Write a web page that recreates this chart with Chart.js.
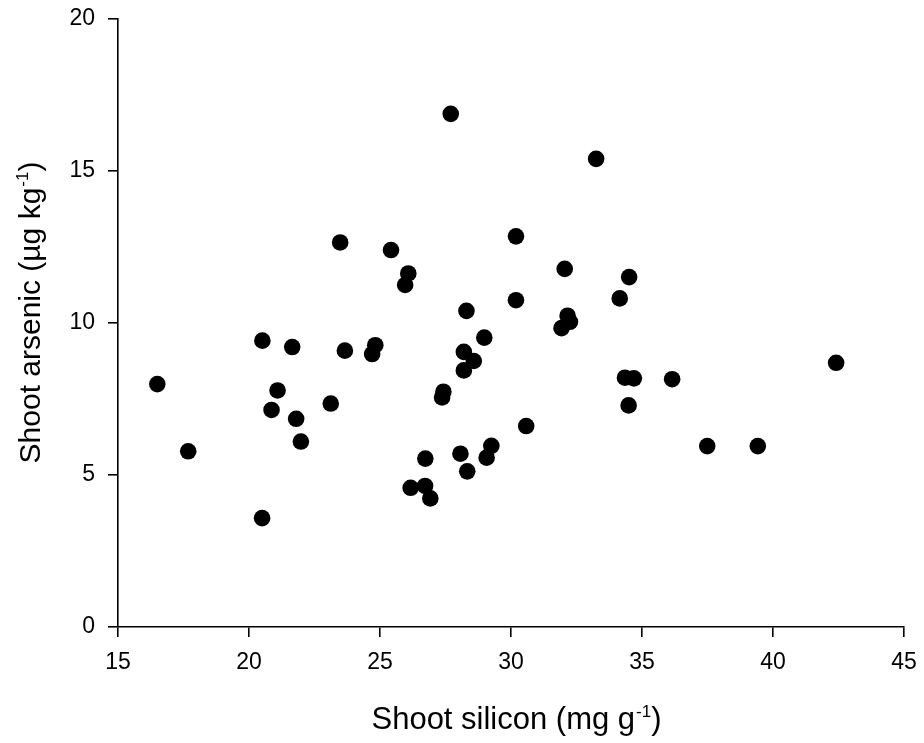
<!DOCTYPE html>
<html>
<head>
<meta charset="utf-8">
<script src="https://cdn.jsdelivr.net/npm/chart.js@4"></script>
<style>
  html, body { margin: 0; padding: 0; background: #fff; }
  #wrap { width: 924px; height: 743px; }
</style>
</head>
<body>
<div id="wrap"><canvas id="myChart" width="924" height="743"></canvas></div>
<script>
// shoot silicon (mg g-1) vs shoot arsenic (ug kg-1)
const silicon = [16.50, 17.68, 20.50, 20.51, 20.86, 21.09, 21.65, 21.80, 21.98, 23.12,
                 23.48, 23.66, 24.70, 24.82, 25.42, 25.96, 26.08, 26.17, 26.72, 26.73,
                 26.92, 27.37, 27.42, 27.70, 28.07, 28.20, 28.20, 28.30, 28.33, 28.58,
                 28.98, 29.07, 29.25, 30.19, 30.19, 30.58, 31.93, 32.05, 32.16, 32.25,
                 33.25, 34.15, 34.35, 34.49, 34.51, 34.69, 36.15, 37.49, 39.42, 42.41];
const arsenic = [7.99, 5.78, 3.58, 9.42, 7.14, 7.78, 9.21, 6.85, 6.10, 7.35,
                 12.65, 9.09, 8.98, 9.27, 12.40, 11.25, 11.63, 4.58, 4.64, 5.54,
                 4.23, 7.55, 7.74, 16.88, 5.70, 9.05, 8.44, 10.40, 5.12, 8.75,
                 9.52, 5.57, 5.96, 12.85, 10.75, 6.61, 9.83, 11.78, 10.24, 10.04,
                 15.40, 10.81, 8.20, 7.29, 11.51, 8.18, 8.15, 5.95, 5.95, 8.69];
const xTicks = [15, 20, 25, 30, 35, 40, 45];
const yTicks = [0, 5, 10, 15, 20];
const xTitle = ['Shoot silicon (mg g', '-1', ')'];
const yTitle = ['Shoot arsenic (\u00b5g kg', '-1', ')'];

const FONT = '"Liberation Sans", Arial, sans-serif';

function drawSup(ctx, parts, cx, baseY, size) {
    const sup = Math.round(size * 0.55);
    ctx.font = size + 'px ' + FONT;
    const w1 = ctx.measureText(parts[0]).width;
    const w3 = ctx.measureText(parts[2]).width;
    ctx.font = sup + 'px ' + FONT;
    const w2 = ctx.measureText(parts[1]).width;
    let x = cx - (w1 + w2 + w3) / 2;
    ctx.textBaseline = 'alphabetic';
    ctx.textAlign = 'left';
    ctx.font = size + 'px ' + FONT;
    ctx.fillText(parts[0], x, baseY);
    ctx.font = sup + 'px ' + FONT;
    ctx.fillText(parts[1], x + w1 + 1, baseY - 12);
    ctx.font = size + 'px ' + FONT;
    ctx.fillText(parts[2], x + w1 + w2 + 1, baseY);
}

const axisTitles = {
    id: 'axisTitles',
    afterDraw(chart) {
        const ctx = chart.ctx;
        const a = chart.chartArea;
        ctx.save();
        ctx.fillStyle = '#000';
        drawSup(ctx, xTitle, (a.left + a.right) / 2 + 5, 729, 31);
        ctx.translate(40, (a.top + a.bottom) / 2 - 10);
        ctx.rotate(-Math.PI / 2);
        drawSup(ctx, yTitle, 0, 0, 30);
        ctx.restore();
    }
};

const points = silicon.map((s, i) => ({x: s, y: arsenic[i]}));

const config = {
    type: 'scatter',
    data: {
        datasets: [{
            data: points,
            backgroundColor: '#000',
            borderWidth: 0,
            pointRadius: 8.3,
            pointHoverRadius: 8.3
        }]
    },
    options: {
        responsive: false,
        animation: false,
        layout: { padding: { top: 19, right: 20, left: 0, bottom: 0 } },
        plugins: { legend: { display: false }, tooltip: { enabled: false } },
        scales: {
            x: {
                type: 'linear',
                min: xTicks[0],
                max: xTicks[xTicks.length - 1],
                afterBuildTicks: (scale) => { scale.ticks = xTicks.map(v => ({value: v})); },
                afterFit: (scale) => { scale.height = 116; scale.paddingLeft = 0; scale.paddingRight = 0; },
                grid: { drawOnChartArea: false, drawTicks: true, tickLength: 10, color: '#000', lineWidth: 1.6 },
                border: { display: true, color: '#000', width: 1.6 },
                ticks: { color: '#000', padding: 12, font: { family: FONT, size: 23 }, maxRotation: 0 }
            },
            y: {
                type: 'linear',
                min: yTicks[0],
                max: yTicks[yTicks.length - 1],
                afterBuildTicks: (scale) => { scale.ticks = yTicks.map(v => ({value: v})); },
                afterFit: (scale) => { scale.width = 118; scale.paddingTop = 0; scale.paddingBottom = 0; },
                grid: { drawOnChartArea: false, drawTicks: true, tickLength: 10, color: '#000', lineWidth: 1.6 },
                border: { display: true, color: '#000', width: 1.6 },
                ticks: { color: '#000', padding: 13, font: { family: FONT, size: 23 } }
            }
        }
    },
    plugins: [axisTitles]
};

var myChart = new Chart(document.getElementById('myChart'), config);
</script>
</body>
</html>
